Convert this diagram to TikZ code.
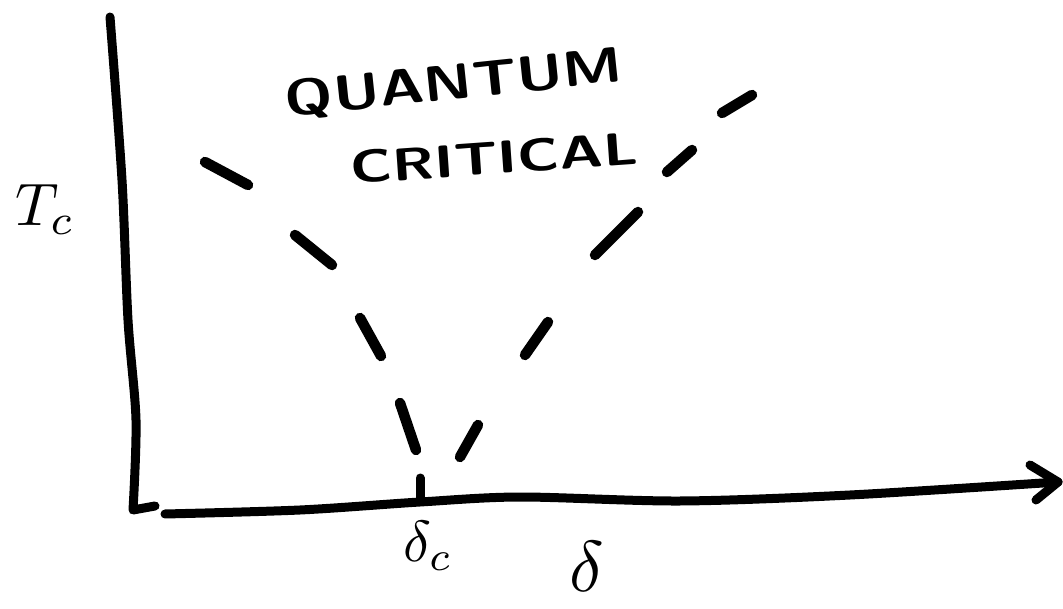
\documentclass[tikz,border=0pt]{standalone}
\usepackage{amsmath, amssymb}
\usepackage{tikz}
\usetikzlibrary{calc}

\tikzset{
    axisline/.style={line width=9pt, line cap=round, line join=round},
    dashbit/.style={line width=10.5pt, line cap=round},
    handtext/.style={inner sep=0pt, font=\sffamily\bfseries\fontsize{50}{60}\selectfont}
}

\begin{document}
\begin{tikzpicture}[x=1pt, y=-1pt]
\useasboundingbox (0,0) rectangle (1063,609);

% ---- Eixos ----
\draw[axisline] plot[smooth] coordinates {(110,17) (122,180) (128,320) (136,420) (133,510)}
    -- (155,506);
\draw[axisline] plot[smooth] coordinates {(165,514) (300,510) (420,502) (520,497) (680,501) (850,495) (1058,482)};
\coordinate (tip) at (1058,482);
% Punta de fletxa
\draw[axisline] (1030,465) -- (tip) -- (1036,500);
% Marca a delta_c
\draw[axisline] (420,478) -- (420,500);

% ---- Etiquetes ----
\node[inner sep=0pt, scale=6] (tclabel) at (45,210) {$T_c$};
\node[inner sep=0pt, scale=5.8] (dclabel) at (428,546) {$\delta_c$};
\node[inner sep=0pt, scale=7.2] (dlabel) at (587,566) {$\delta$};
\node[handtext, rotate=6, xscale=1.22] (quantum) at (454,84) {QUANTUM};
\node[handtext, rotate=4, xscale=1.3, font=\sffamily\bfseries\fontsize{46}{56}\selectfont] (critical) at (494,158) {CRITICAL};

% ---- Branca esquerra (discontinua) ----
\draw[dashbit] (205,162) -- (248,185);
\draw[dashbit] (295,235) -- (332,265);
\draw[dashbit] (360,318) -- (381,356);
\draw[dashbit] (400,403) -- (416,450);

% ---- Branca dreta (discontinua) ----
\draw[dashbit] (460,457) -- (478,425);
\draw[dashbit] (525,355) -- (548,322);
\draw[dashbit] (595,255) -- (638,212);
\draw[dashbit] (667,172) -- (692,150);
\draw[dashbit] (722,113) -- (752,95);

\end{tikzpicture}
\end{document}
